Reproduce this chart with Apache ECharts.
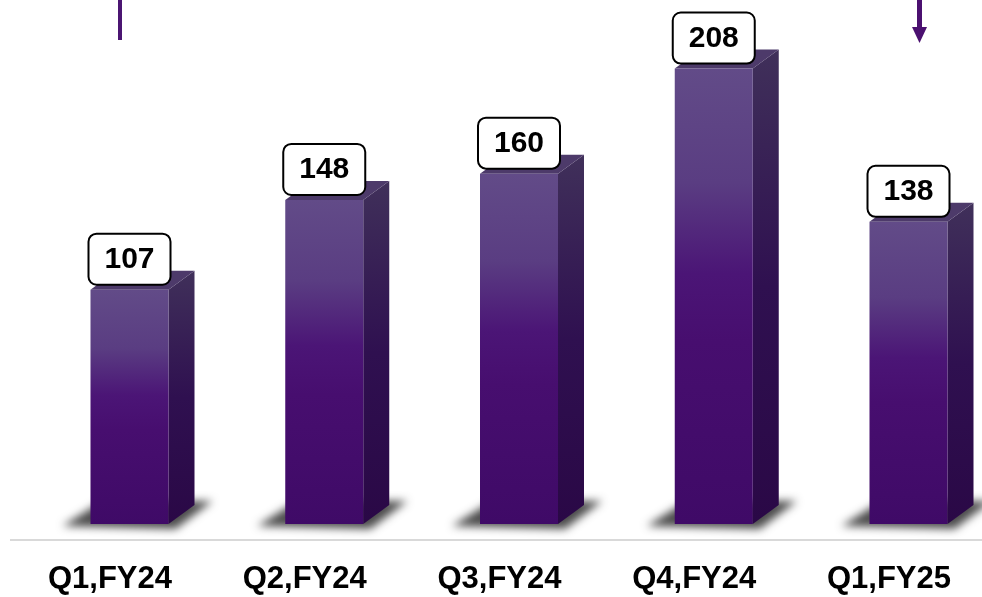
<!DOCTYPE html>
<html>
<head>
<meta charset="utf-8">
<script src="https://cdn.jsdelivr.net/npm/echarts@6/dist/echarts.min.js"></script>
<style>
  html, body { margin: 0; padding: 0; background: #fff; }
  #main { width: 982px; height: 597px; }
</style>
</head>
<body>
<div id="main"></div>
<script>
const categories = ['Q1,FY24', 'Q2,FY24', 'Q3,FY24', 'Q4,FY24', 'Q1,FY25']
const values = [107, 148, 160, 208, 138]

const chart = echarts.init(document.getElementById('main'))

// 3d-ish bar: front face, right side, top face, soft floor shadow, boxed label
function renderBar (params, api) {
  const i = api.value(0)
  const v = api.value(1)
  const top = api.coord([i, v])
  const base = api.coord([i, 0])
  const L = top[0] - 19.5
  const W = 78
  const R = L + W
  const T = top[1]
  const B = base[1]
  const dx = 26
  const dy = 19
  const off = 1500 // draw shadow shape off screen, only its blur comes back
  return {
    type: 'group',
    children: [
      {
        type: 'polygon',
        shape: { points: [[L - 28 - off, B + 2], [L + 85 - off, B + 5], [L + 122 - off, B - 23], [L + 12 - off, B - 23]] },
        style: { fill: '#000', shadowBlur: 9, shadowColor: 'rgba(0,0,0,0.7)', shadowOffsetX: off }
      },
      {
        type: 'polygon',
        shape: { points: [[R, T], [R + dx, T - dy], [R + dx, B - dy], [R, B]] },
        style: {
          fill: new echarts.graphic.LinearGradient(0, 0, 0, 1, [
            { offset: 0, color: '#40305a' },
            { offset: 0.5, color: '#2f1050' },
            { offset: 1, color: '#2a0846' }
          ])
        }
      },
      {
        type: 'polygon',
        shape: { points: [[L, T], [L + dx, T - dy], [R + dx, T - dy], [R, T]] },
        style: { fill: '#4d3a6a' }
      },
      {
        type: 'rect',
        shape: { x: L, y: T, width: W, height: B - T },
        style: {
          fill: new echarts.graphic.LinearGradient(0, 0, 0, 1, [
            { offset: 0, color: '#624b88' },
            { offset: 0.25, color: '#5a3d82' },
            { offset: 0.45, color: '#4b1576' },
            { offset: 0.6, color: '#470e6f' },
            { offset: 1, color: '#3f0a67' }
          ])
        }
      },
      {
        type: 'rect',
        shape: { x: L + W / 2 - 41, y: T - 56, width: 82, height: 51, r: 8 },
        style: { fill: '#fff', stroke: '#000', lineWidth: 2 }
      },
      {
        type: 'text',
        x: L + W / 2,
        y: T - 30,
        style: {
          text: String(v),
          fill: '#000',
          font: 'bold 30px "Liberation Sans", Arial, sans-serif',
          align: 'center',
          verticalAlign: 'middle'
        }
      }
    ]
  }
}

const option = {
  backgroundColor: '#fff',
  animation: false,
  // categories sit on the grid edges so the band spacing can be set freely
  grid: { left: 110, right: 93, top: 0, bottom: 57 },
  xAxis: {
    type: 'category',
    data: categories,
    boundaryGap: false,
    axisLine: { show: false },
    axisTick: { show: false },
    axisLabel: {
      margin: 24,
      color: '#000',
      fontSize: 31,
      fontWeight: 'bold',
      fontFamily: '"Liberation Sans", Arial, sans-serif'
    }
  },
  yAxis: {
    type: 'value',
    min: -7.3,
    max: 239.3,
    show: false
  },
  graphic: [
    {
      // baseline rule across the full width
      type: 'rect',
      shape: { x: 10, y: 539, width: 972, height: 2 },
      style: { fill: '#d9d9d9' }
    },
    {
      type: 'rect',
      shape: { x: 118, y: 0, width: 4, height: 40 },
      style: { fill: '#4b1572' }
    },
    {
      type: 'rect',
      shape: { x: 917, y: 0, width: 5, height: 29 },
      style: { fill: '#4b1070' }
    },
    {
      type: 'polygon',
      shape: { points: [[912, 27], [927, 27], [919.5, 43]] },
      style: { fill: '#4b1070' }
    }
  ],
  series: [
    {
      type: 'custom',
      renderItem: renderBar,
      encode: { x: 0, y: 1 },
      data: categories.map((c, i) => [i, values[i]])
    }
  ]
}

chart.setOption(option)
window.addEventListener('resize', () => chart.resize())
</script>
</body>
</html>
